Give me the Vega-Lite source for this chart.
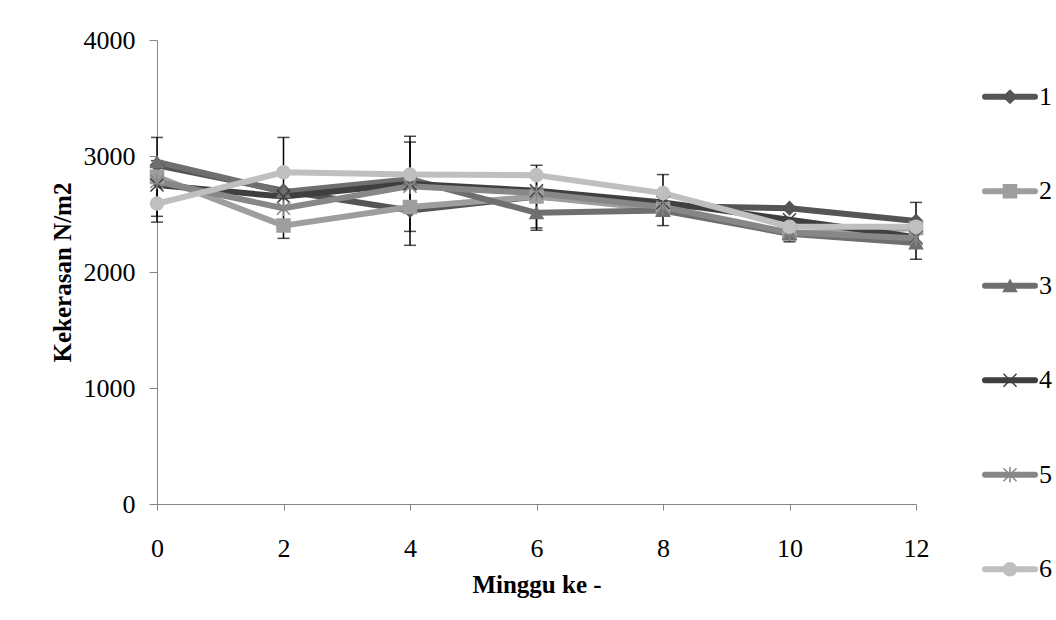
{
  "$schema": "https://vega.github.io/schema/vega-lite/v6.json",
  "background": "white",
  "padding": {"left": 50, "top": 27, "right": 5, "bottom": 5},
  "spacing": 53,
  "config": {
    "font": "Liberation Serif",
    "view": {"stroke": null},
    "axis": {"grid": false, "labelFont": "Liberation Serif", "titleFont": "Liberation Serif", "labelColor": "black", "titleColor": "black", "labelFontSize": 26, "titleFontSize": 25, "titleFontWeight": "bold", "domainColor": "#868686", "tickColor": "#868686", "domainWidth": 1, "tickWidth": 1}
  },
  "datasets": {
    "means": [
      {"series": "1", "week": 0, "value": 2920}, {"series": "1", "week": 2, "value": 2700}, {"series": "1", "week": 4, "value": 2530}, {"series": "1", "week": 6, "value": 2650}, {"series": "1", "week": 8, "value": 2570}, {"series": "1", "week": 10, "value": 2550}, {"series": "1", "week": 12, "value": 2440},
      {"series": "2", "week": 0, "value": 2820}, {"series": "2", "week": 2, "value": 2400}, {"series": "2", "week": 4, "value": 2560}, {"series": "2", "week": 6, "value": 2650}, {"series": "2", "week": 8, "value": 2540}, {"series": "2", "week": 10, "value": 2330}, {"series": "2", "week": 12, "value": 2380},
      {"series": "3", "week": 0, "value": 2950}, {"series": "3", "week": 2, "value": 2690}, {"series": "3", "week": 4, "value": 2800}, {"series": "3", "week": 6, "value": 2510}, {"series": "3", "week": 8, "value": 2530}, {"series": "3", "week": 10, "value": 2330}, {"series": "3", "week": 12, "value": 2250},
      {"series": "4", "week": 0, "value": 2750}, {"series": "4", "week": 2, "value": 2650}, {"series": "4", "week": 4, "value": 2760}, {"series": "4", "week": 6, "value": 2700}, {"series": "4", "week": 8, "value": 2600}, {"series": "4", "week": 10, "value": 2450}, {"series": "4", "week": 12, "value": 2300},
      {"series": "5", "week": 0, "value": 2780}, {"series": "5", "week": 2, "value": 2550}, {"series": "5", "week": 4, "value": 2740}, {"series": "5", "week": 6, "value": 2680}, {"series": "5", "week": 8, "value": 2560}, {"series": "5", "week": 10, "value": 2340}, {"series": "5", "week": 12, "value": 2290},
      {"series": "6", "week": 0, "value": 2590}, {"series": "6", "week": 2, "value": 2860}, {"series": "6", "week": 4, "value": 2840}, {"series": "6", "week": 6, "value": 2835}, {"series": "6", "week": 8, "value": 2680}, {"series": "6", "week": 10, "value": 2390}, {"series": "6", "week": 12, "value": 2390}
    ],
    "errs": [
      {"week": 0, "lo": 2430, "hi": 3160}, {"week": 0, "lo": 2480, "hi": 2960},
      {"week": 2, "lo": 2290, "hi": 3160},
      {"week": 4, "lo": 2230, "hi": 3170}, {"week": 4, "lo": 2350, "hi": 3120},
      {"week": 6, "lo": 2360, "hi": 2920}, {"week": 6, "lo": 2380, "hi": 2830},
      {"week": 8, "lo": 2400, "hi": 2840},
      {"week": 10, "lo": 2260, "hi": 2400},
      {"week": 12, "lo": 2110, "hi": 2600}
    ],
    "legend": [
      {"series": "1"}, {"series": "2"}, {"series": "3"}, {"series": "4"}, {"series": "5"}, {"series": "6"}
    ]
  },
  "hconcat": [
    {
      "width": 759,
      "height": 464,
      "encoding": {
        "x": {"field": "week", "type": "quantitative", "scale": {"domain": [0, 12], "nice": false, "zero": false},
          "axis": {"values": [0, 2, 4, 6, 8, 10, 12], "format": "d", "title": "Minggu ke -", "tickSize": 6, "labelPadding": 25, "titlePadding": 11, "labelFlush": false}},
        "y": {"type": "quantitative", "scale": {"domain": [0, 4000], "nice": false},
          "axis": {"values": [0, 1000, 2000, 3000, 4000], "format": "d", "title": "Kekerasan N/m2", "tickSize": 8, "labelPadding": 14, "titlePadding": 8}}
      },
      "layer": [
        {
          "data": {"name": "errs"},
          "mark": {"type": "rule", "color": "black", "strokeWidth": 1.5},
          "encoding": {"y": {"field": "lo", "type": "quantitative"}, "y2": {"field": "hi"}}
        },
        {
          "data": {"name": "errs"},
          "mark": {"type": "tick", "orient": "horizontal", "color": "black", "thickness": 1.5, "size": 12},
          "encoding": {"y": {"field": "lo", "type": "quantitative"}}
        },
        {
          "data": {"name": "errs"},
          "mark": {"type": "tick", "orient": "horizontal", "color": "black", "thickness": 1.5, "size": 12},
          "encoding": {"y": {"field": "hi", "type": "quantitative"}}
        },
        {
          "data": {"name": "means"},
          "mark": {"type": "line", "strokeWidth": 6, "strokeCap": "round", "strokeJoin": "round"},
          "encoding": {
            "y": {"field": "value", "type": "quantitative"},
            "detail": {"field": "series"},
            "color": {"field": "series", "type": "nominal", "legend": null,
              "scale": {"domain": ["1", "2", "3", "4", "5", "6"], "range": ["#555555", "#9e9e9e", "#6f6f6f", "#3f3f3f", "#878787", "#bfbfbf"]}}
          }
        },
        {
          "data": {"name": "means"},
          "mark": {"type": "point", "filled": true, "strokeWidth": 1.5, "opacity": 1},
          "encoding": {
            "y": {"field": "value", "type": "quantitative"},
            "color": {"field": "series", "type": "nominal", "legend": null,
              "scale": {"domain": ["1", "2", "3", "4", "5", "6"], "range": ["#555555", "#9e9e9e", "#6f6f6f", "#3f3f3f", "#878787", "#bfbfbf"]}},
            "stroke": {"field": "series", "type": "nominal", "legend": null,
              "scale": {"domain": ["1", "2", "3", "4", "5", "6"], "range": ["#555555", "#9e9e9e", "#6f6f6f", "#3f3f3f", "#878787", "#bfbfbf"]}},
            "shape": {"field": "series", "type": "nominal", "legend": null,
              "scale": {"domain": ["1", "2", "3", "4", "5", "6"], "range": ["diamond", "square", "triangle-up", "M-1,-1L1,1M-1,1L1,-1", "M-1,-1L1,1M-1,1L1,-1M0,-1.2L0,1.2", "circle"]}},
            "size": {"field": "series", "type": "nominal", "legend": null,
              "scale": {"domain": ["1", "2", "3", "4", "5", "6"], "range": [170, 170, 170, 80, 80, 220]}}
          }
        }
      ]
    },
    {
      "width": 50,
      "height": 586,
      "data": {"name": "legend"},
      "encoding": {
        "y": {"field": "series", "type": "ordinal", "axis": null, "scale": {"type": "point", "padding": 0.6, "domain": ["1", "2", "3", "4", "5", "6"]}}
      },
      "layer": [
        {
          "mark": {"type": "rule", "strokeWidth": 6, "strokeCap": "round"},
          "encoding": {
            "x": {"datum": 0, "type": "quantitative", "scale": {"domain": [0, 1], "nice": false, "zero": false}, "axis": null},
            "x2": {"datum": 1},
            "color": {"field": "series", "type": "nominal", "legend": null,
              "scale": {"domain": ["1", "2", "3", "4", "5", "6"], "range": ["#555555", "#9e9e9e", "#6f6f6f", "#3f3f3f", "#878787", "#bfbfbf"]}}
          }
        },
        {
          "mark": {"type": "point", "filled": true, "strokeWidth": 1.5, "opacity": 1},
          "encoding": {
            "x": {"datum": 0.5, "type": "quantitative"},
            "color": {"field": "series", "type": "nominal", "legend": null,
              "scale": {"domain": ["1", "2", "3", "4", "5", "6"], "range": ["#555555", "#9e9e9e", "#6f6f6f", "#3f3f3f", "#878787", "#bfbfbf"]}},
            "stroke": {"field": "series", "type": "nominal", "legend": null,
              "scale": {"domain": ["1", "2", "3", "4", "5", "6"], "range": ["#555555", "#9e9e9e", "#6f6f6f", "#3f3f3f", "#878787", "#bfbfbf"]}},
            "shape": {"field": "series", "type": "nominal", "legend": null,
              "scale": {"domain": ["1", "2", "3", "4", "5", "6"], "range": ["diamond", "square", "triangle-up", "M-1,-1L1,1M-1,1L1,-1", "M-1,-1L1,1M-1,1L1,-1M0,-1.2L0,1.2", "circle"]}},
            "size": {"field": "series", "type": "nominal", "legend": null,
              "scale": {"domain": ["1", "2", "3", "4", "5", "6"], "range": [170, 170, 170, 80, 80, 220]}}
          }
        },
        {
          "mark": {"type": "text", "align": "left", "baseline": "middle", "dx": 4, "fontSize": 26, "font": "Liberation Serif", "color": "black"},
          "encoding": {
            "x": {"datum": 1, "type": "quantitative"},
            "text": {"field": "series"}
          }
        }
      ]
    }
  ]
}
